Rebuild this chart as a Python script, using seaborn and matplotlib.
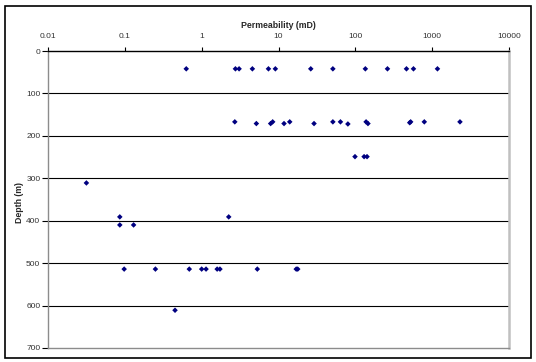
import matplotlib
matplotlib.use("Agg")
import matplotlib.pyplot as plt
import seaborn as sns
import pandas as pd
from matplotlib.patches import Rectangle
from matplotlib.ticker import FixedLocator, FixedFormatter, NullLocator

# ---- data ----
perm_42 = [0.63, 2.75, 3.07, 4.57, 7.4, 9.1, 26.3, 51, 135, 262, 463, 571, 1172]
depth_42 = [42] * len(perm_42)

perm_165 = [2.7, 5.15, 7.9, 8.4, 11.8, 14, 29, 51, 64, 80, 138, 146, 510, 525, 790, 2300]
depth_165 = [167, 171, 171, 167, 171, 167, 171, 167, 167, 172, 167, 171, 169, 167, 167, 167]

perm_249 = [99, 130, 142]
depth_249 = [249, 249, 249]

perm_deep = [0.0316, 0.086, 2.25, 0.086, 0.13,
             0.098, 0.25, 0.69, 1.0, 1.14, 1.59, 1.73, 5.3, 17.0, 17.8,
             0.45]
depth_deep = [311, 391, 391, 410, 410,
              514, 514, 514, 514, 514, 514, 514, 514, 514, 514,
              611]

x_ticks = [0.01, 0.1, 1, 10, 100, 1000, 10000]
x_tick_labels = ["0.01", "0.1", "1", "10", "100", "1000", "10000"]
y_ticks = [0, 100, 200, 300, 400, 500, 600, 700]
y_tick_labels = ["0", "100", "200", "300", "400", "500", "600", "700"]

df = pd.DataFrame({
    "Permeability": perm_42 + perm_165 + perm_249 + perm_deep,
    "Depth": depth_42 + depth_165 + depth_249 + depth_deep,
})

sns.set_style("white")
plt.rcParams['font.family'] = ['Liberation Sans', 'DejaVu Sans']

W, H = 536, 362
fig = plt.figure(figsize=(W / 100, H / 100), dpi=100)
L, R, T, B = 48, 509, 51, 348
ax = fig.add_axes([L / W, 1 - B / H, (R - L) / W, (B - T) / H])

sns.scatterplot(data=df, x="Permeability", y="Depth", ax=ax, marker="D",
                color="#000080", edgecolor="none", s=8, zorder=3, legend=False)

ax.set_xscale("log")
ax.set_xlim(0.01, 10000)
ax.set_ylim(700, 0)

ax.xaxis.tick_top()
ax.xaxis.set_major_locator(FixedLocator(x_ticks))
ax.xaxis.set_major_formatter(FixedFormatter(x_tick_labels))
ax.xaxis.set_minor_locator(NullLocator())
ax.yaxis.set_major_locator(FixedLocator(y_ticks))
ax.yaxis.set_major_formatter(FixedFormatter(y_tick_labels))

ax.tick_params(axis="x", which="major", top=True, bottom=False, direction="out",
               length=3, width=0.8, color="black", labelsize=6, pad=5,
               labelcolor="#333333")
ax.tick_params(axis="y", which="major", left=True, direction="out",
               length=4, width=0.8, color="black", labelsize=6, pad=1.5,
               labelcolor="#333333")

ax.set_xlabel("")
ax.set_ylabel("")
ax.grid(False)
for yv in y_ticks[1:-1]:
    ax.axhline(yv, color="black", lw=0.8, zorder=1)

ax.spines["top"].set_color("black")
ax.spines["top"].set_linewidth(1.0)
ax.spines["left"].set_color("#8c8c8c")
ax.spines["left"].set_linewidth(1.0)
ax.spines["bottom"].set_color("#8c8c8c")
ax.spines["bottom"].set_linewidth(1.0)
ax.spines["right"].set_color("#c0c0c0")
ax.spines["right"].set_linewidth(1.8)
for s in ax.spines.values():
    s.set_visible(True)

fig.text((L + R) / 2 / W, 1 - 25 / H, "Permeability (mD)", ha="center",
         va="center", fontsize=6.3, fontweight="bold")
fig.text(20 / W, 1 - 203 / H, "Depth (m)", ha="center", va="center",
         rotation=90, fontsize=6.3, fontweight="bold")

fig.patches.append(Rectangle((5 / W, 1 - 358 / H), (531 - 5) / W, (358 - 6) / H,
                             transform=fig.transFigure, fill=False,
                             edgecolor="black", lw=1.2))

fig.savefig("out.png", dpi=100)
